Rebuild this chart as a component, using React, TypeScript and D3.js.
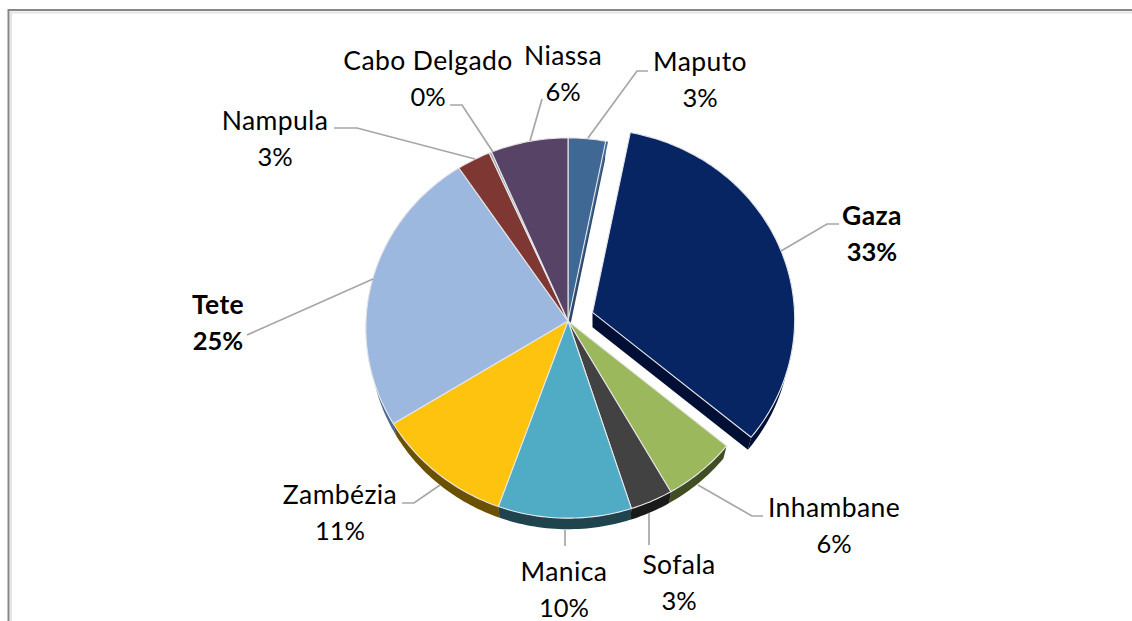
import React from "react";
import * as d3 from "d3";

const categories = ["Maputo", "Gaza", "Inhambane", "Sofala", "Manica", "Zambézia", "Tete", "Nampula", "Cabo Delgado", "Niassa"];
const shares = [3.1, 33.0, 5.7, 3.3, 10.3, 10.7, 24.5, 2.8, 0.2, 6.4];
const topColors = ["#3f6895", "#082563", "#9bb95c", "#424242", "#50abc5", "#fec30f", "#9db8df", "#7f3734", "#a0a0a0", "#574366"];
const sideColors = ["#2a4668", "#000f33", "#414d22", "#1a1a1a", "#1f444e", "#6b5000", "#4f6a90", "#4a1f1d", "#666666", "#33273d"];

// label centre x, first baseline y, then the leader line
const labelLayout: Record<string, { x: number; y: number; leader: [number, number][] }> = {
  Maputo: { x: 700, y: 71, leader: [[588, 138], [637, 71], [648, 71]] },
  Gaza: { x: 872, y: 225, leader: [[781, 251], [827, 224], [839, 224]] },
  Inhambane: { x: 834, y: 517, leader: [[698, 485], [752, 516], [763, 516]] },
  Sofala: { x: 679, y: 574, leader: [[649, 513], [649, 545]] },
  Manica: { x: 564, y: 581, leader: [[565, 530], [565, 546]] },
  "Zambézia": { x: 340, y: 504, leader: [[440, 485], [414, 503], [402, 503]] },
  Tete: { x: 218, y: 314, leader: [[373, 279], [247, 335]] },
  Nampula: { x: 275, y: 130, leader: [[475, 159], [357, 128], [334, 128]] },
  "Cabo Delgado": { x: 428, y: 70, leader: [[493, 152], [462, 105], [450, 105]] },
  Niassa: { x: 563, y: 65, leader: [[530, 141], [542, 99]] },
};

const boldLabels = ["Gaza", "Tete"];
const explodedSlice = "Gaza";

const width = 1132;
const height = 621;
const cx = 568;
const cy = 321;
const radius = 202;
const tilt = 0.94;
const persp = 0.037;
const depth = 15;
const shrink = 0.98;
const explode = 26;
const font = "Lato, 'Open Sans', sans-serif";

type Pt = [number, number];

// flat pie angle -> screen point on the tilted disc
function project(angle: number, r: number): Pt {
  const s = 1 / (1 + persp * Math.cos(angle));
  return [r * Math.sin(angle) * s, -r * tilt * Math.cos(angle) * s];
}

function lower(p: Pt): Pt {
  return [p[0] * shrink, p[1] * shrink + depth];
}

const linePath = d3.line<Pt>();

function arcPoints(a0: number, a1: number): Pt[] {
  const n = Math.max(2, Math.ceil(Math.abs(a1 - a0) / 0.02));
  return d3.range(n + 1).map((i) => project(a0 + ((a1 - a0) * i) / n, radius));
}

export default function App() {
  const slices = d3.pie<number>().sort(null).value((d) => d)(shares);
  const percent = d3.format(".0%");

  const offset = (name: string, mid: number): Pt =>
    name === explodedSlice ? [explode * Math.sin(mid), -explode * Math.cos(mid)] : [0, 0];

  return (
    <svg width={width} height={height} style={{ position: "absolute", left: 0, top: 0, background: "#fff" }}>
      <path d={`M9.5,${height}V11H${width}`} fill="none" stroke="#e4e4e4" strokeWidth={2} transform="translate(1.5,1.5)" />
      <path d={`M8.5,${height}V10H${width}`} fill="none" stroke="#868686" strokeWidth={2} />

      {slices.map((s, i) => {
        const name = categories[i];
        const off = offset(name, (s.startAngle + s.endAngle) / 2);
        const arc = arcPoints(s.startAngle, s.endAngle);
        const wall = [...arc, ...arc.map(lower).reverse()];
        const last = arc[arc.length - 1];
        const cut: Pt[] = [[0, 0], last, lower(last), [0, depth]];
        return (
          <g key={name} transform={`translate(${cx + off[0]},${cy + off[1]})`}>
            <path d={linePath(cut) + "Z"} fill={sideColors[i]} />
            <path d={linePath(wall) + "Z"} fill={sideColors[i]} />
          </g>
        );
      })}

      {slices.map((s, i) => {
        const name = categories[i];
        const off = offset(name, (s.startAngle + s.endAngle) / 2);
        const top = [[0, 0] as Pt, ...arcPoints(s.startAngle, s.endAngle)];
        return (
          <g key={name} transform={`translate(${cx + off[0]},${cy + off[1]})`}>
            {i === 0 && (
              <path
                d={linePath([[1, 1], project(s.endAngle + 0.012, radius), project(s.endAngle, radius)]) + "Z"}
                fill={topColors[i]}
              />
            )}
            <path d={linePath(top) + "Z"} fill={topColors[i]} stroke="#e6e6ea" strokeWidth={1.1} strokeLinejoin="round" />
          </g>
        );
      })}

      {categories.map((name) => (
        <path key={name} d={linePath(labelLayout[name].leader)!} fill="none" stroke="#a6a6a6" strokeWidth={1.7} />
      ))}

      {categories.map((name, i) => {
        const l = labelLayout[name];
        const weight = boldLabels.includes(name) ? 700 : 400;
        return (
          <text key={name} textAnchor="middle" fontFamily={font} fontWeight={weight} fill="#000">
            <tspan x={l.x} y={l.y} fontSize={26.5} letterSpacing={0.4}>{name}</tspan>
            <tspan x={l.x} y={l.y + 35.5} fontSize={25.5}>{percent(shares[i] / 100)}</tspan>
          </text>
        );
      })}
    </svg>
  );
}
